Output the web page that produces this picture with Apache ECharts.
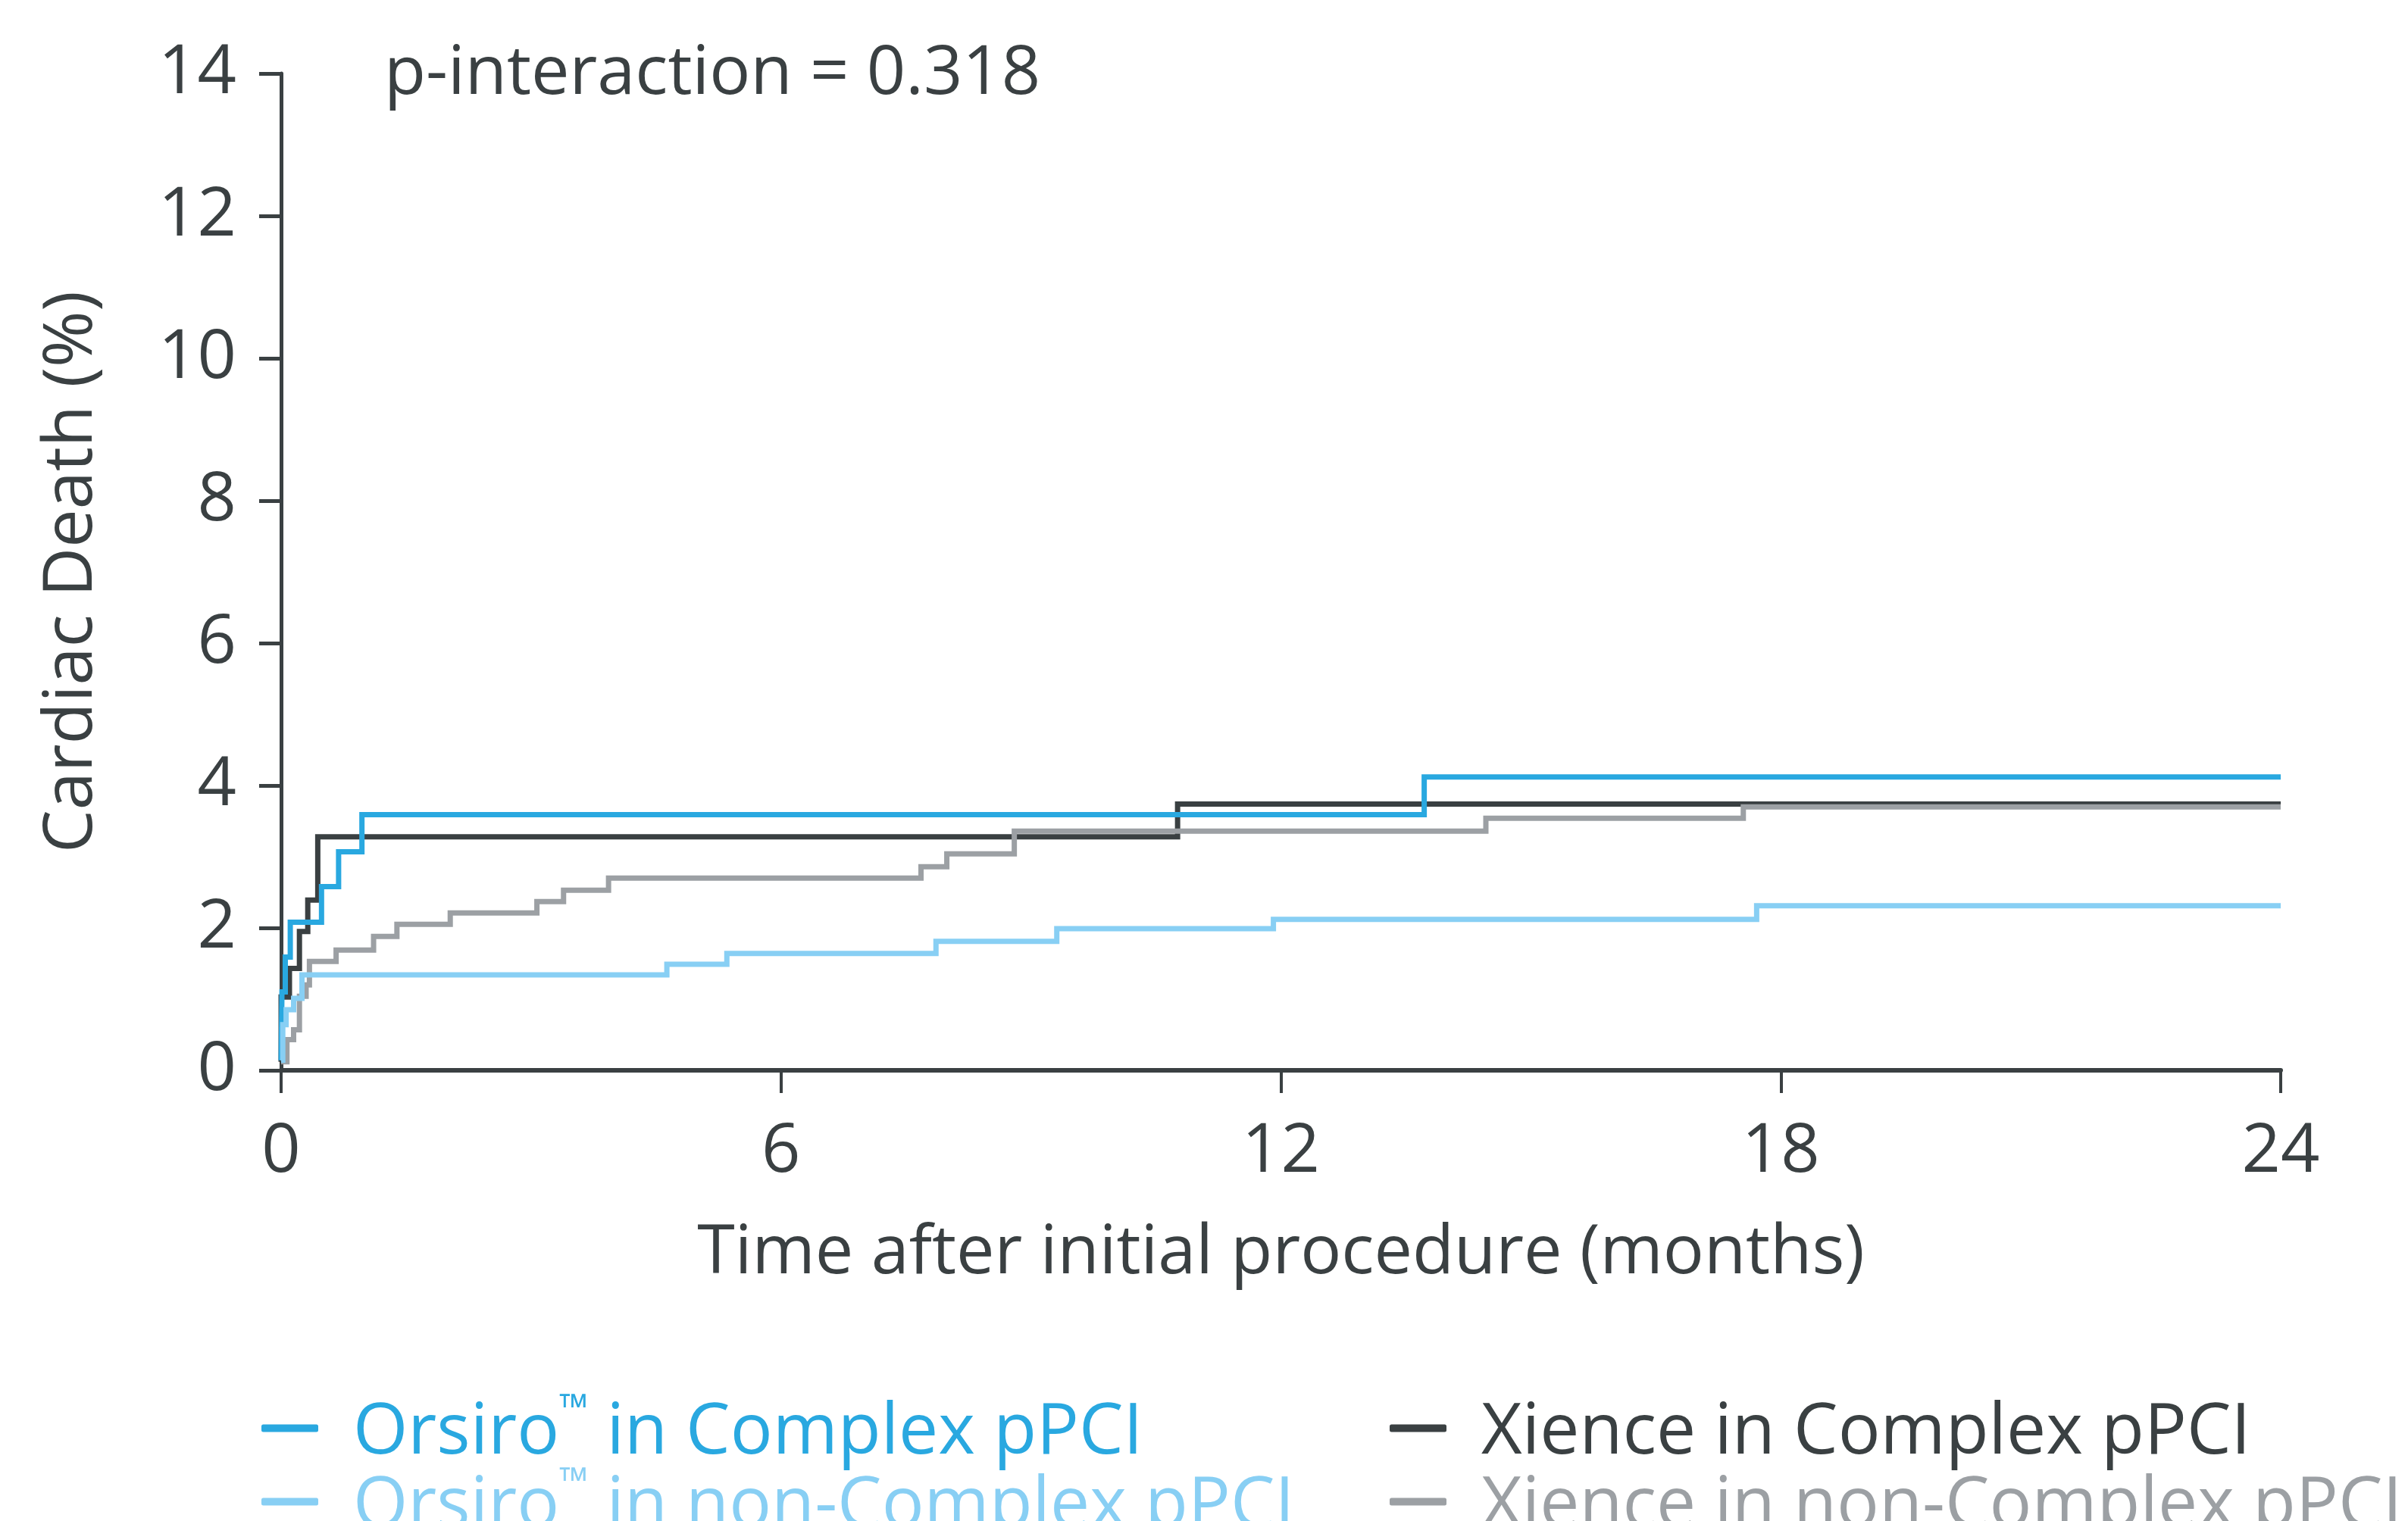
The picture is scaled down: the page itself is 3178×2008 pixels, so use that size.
<!DOCTYPE html>
<html><head><meta charset="utf-8">
<script src="https://cdn.jsdelivr.net/npm/echarts@6/dist/echarts.min.js"></script>
<style>html,body{margin:0;padding:0;background:#fff}#c{width:3178px;height:2008px}</style>
</head><body><div id="c"></div>
<script>
// ---- data ----
const xTicks = [0, 6, 12, 18, 24];
const yTicks = [0, 2, 4, 6, 8, 10, 12, 14];
const xTitle = 'Time after initial procedure (months)';
const yTitle = 'Cardiac Death (%)';
const annotation = 'p-interaction = 0.318';
const names = ['Orsiro\u2122 in Complex pPCI', 'Orsiro\u2122 in non-Complex pPCI', 'Xience in Complex pPCI', 'Xience in non-Complex pPCI'];

const orsiroComplexT = [0, 0.01, 0.05, 0.11, 0.485, 0.69, 0.97, 13.72, 24];
const orsiroComplexV = [0.14, 1.10, 1.59, 2.08, 2.58, 3.07, 3.59, 4.12, 4.12];

const orsiroNonComplexT = [0, 0.02, 0.06, 0.15, 0.25, 4.63, 5.35, 7.86, 9.31, 11.91, 17.71, 24];
const orsiroNonComplexV = [0.14, 0.64, 0.85, 1.01, 1.34, 1.49, 1.64, 1.81, 1.99, 2.12, 2.31, 2.31];

const xienceComplexT = [0, 0.0, 0.10, 0.22, 0.32, 0.44, 10.76, 24];
const xienceComplexV = [0.12, 1.03, 1.43, 1.95, 2.39, 3.28, 3.74, 3.74];

const xienceNonComplexT = [0, 0.07, 0.15, 0.22, 0.30, 0.34, 0.66, 1.11, 1.39, 2.03, 3.07, 3.39, 3.93, 7.68, 7.99, 8.80, 14.46, 17.55, 24];
const xienceNonComplexV = [0.12, 0.43, 0.57, 1.04, 1.20, 1.53, 1.69, 1.88, 2.05, 2.21, 2.37, 2.53, 2.70, 2.86, 3.04, 3.36, 3.54, 3.70, 3.70];

// ---- style ----
const C_BLUE = '#29a8e0', C_LIGHT = '#88cff4', C_DARK = '#3a4042', C_GREY = '#9ca0a4';
const FONT = '"Open Sans", "Noto Sans", sans-serif';
const FS = 90;
const LFS = 93;

const zip = (t, v) => t.map((x, i) => [x, v[i]]);
const mk = (name, t, v, color) => ({
  name, type: 'line', step: 'end', data: zip(t, v),
  symbol: 'none', showSymbol: false, silent: true,
  lineStyle: { color, width: 7, join: 'miter', cap: 'butt' },
  itemStyle: { color }
});

// legend text with small superscript trademark sign
const legendFmt = (name) => {
  const parts = name.split('\u2122');
  if (parts.length === 1) return '{n|' + name + '}';
  return '{n|' + parts[0] + '}{tm|\u2122}{n|' + parts[1] + '}';
};
const mkLegend = (name, color, left, top) => ({
  left, top, orient: 'vertical', padding: 0, itemGap: 0,
  icon: 'roundRect', itemWidth: 75, itemHeight: 10,
  formatter: legendFmt,
  textStyle: {
    color, fontFamily: FONT, fontSize: LFS, lineHeight: 97, padding: [0, 0, 0, 41],
    rich: {
      n: { color, fontFamily: FONT, fontSize: LFS, lineHeight: 97, padding: [14, 0, 0, 0] },
      tm: { color, fontFamily: FONT, fontSize: 50, lineHeight: 97, verticalAlign: 'top', padding: [0, 0, 0, 0] }
    }
  },
  data: [{ name }]
});

const chart = echarts.init(document.getElementById('c'), null, { renderer: 'canvas' });
chart.setOption({
  animation: false,
  backgroundColor: '#ffffff',
  textStyle: { fontFamily: FONT },
  grid: { left: 371, top: 97, width: 2639, height: 1316, containLabel: false },
  xAxis: {
    type: 'value', min: xTicks[0], max: xTicks[xTicks.length - 1], interval: xTicks[1] - xTicks[0],
    name: xTitle, nameLocation: 'middle', nameGap: 197,
    nameTextStyle: { fontFamily: FONT, fontSize: FS, color: C_DARK },
    axisLine: { show: true, lineStyle: { color: C_DARK, width: 6 } },
    axisTick: { show: true, length: 30, lineStyle: { color: C_DARK, width: 4 } },
    axisLabel: { margin: 63, fontFamily: FONT, fontSize: FS, color: C_DARK },
    splitLine: { show: false }
  },
  yAxis: {
    type: 'value', min: yTicks[0], max: yTicks[yTicks.length - 1], interval: yTicks[1] - yTicks[0],
    name: yTitle, nameLocation: 'middle', nameGap: 231,
    nameTextStyle: { fontFamily: FONT, fontSize: FS, color: C_DARK },
    axisLine: { show: true, lineStyle: { color: C_DARK, width: 5 } },
    axisTick: { show: true, length: 29, lineStyle: { color: C_DARK, width: 5 } },
    axisLabel: { margin: 59, fontFamily: FONT, fontSize: FS, color: C_DARK },
    splitLine: { show: false }
  },
  legend: [
    mkLegend(names[0], C_BLUE, 345, 1832),
    mkLegend(names[1], C_LIGHT, 345, 1929),
    mkLegend(names[2], C_DARK, 1834, 1832),
    mkLegend(names[3], C_GREY, 1834, 1929)
  ],
  graphic: [{
    type: 'text', left: 507, top: 53, silent: true,
    style: { text: annotation, font: FS + 'px ' + FONT, fill: C_DARK }
  }],
  series: [
    mk(names[2], xienceComplexT, xienceComplexV, C_DARK),
    mk(names[3], xienceNonComplexT, xienceNonComplexV, C_GREY),
    mk(names[0], orsiroComplexT, orsiroComplexV, C_BLUE),
    mk(names[1], orsiroNonComplexT, orsiroNonComplexV, C_LIGHT)
  ]
});
</script></body></html>
